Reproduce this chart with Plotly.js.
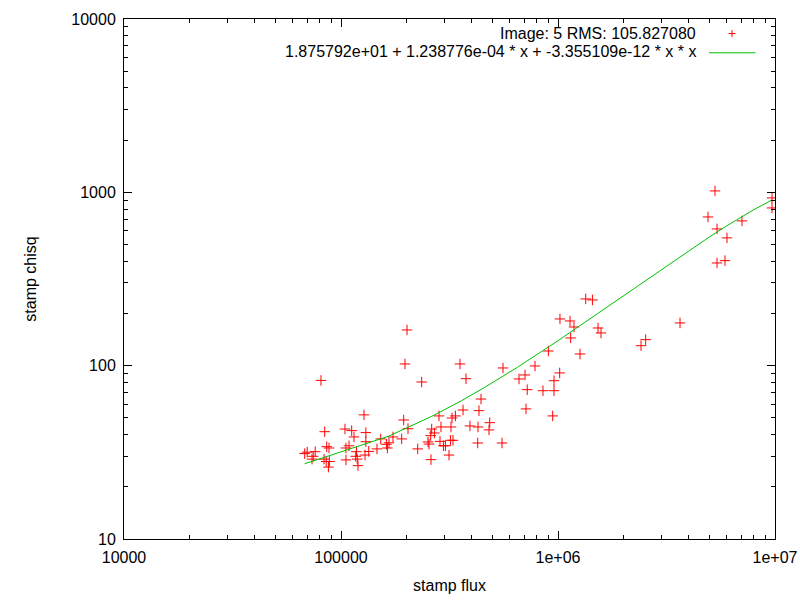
<!DOCTYPE html>
<html>
<head>
<meta charset="utf-8">
<script src="https://cdn.plot.ly/plotly-3.0.1.min.js"></script>
<style>
  body { margin: 0; background: #fff; }
  #plot { width: 800px; height: 600px; }
</style>
</head>
<body>
<div id="plot"></div>
<script>
var flux = [68040, 69860, 76040, 74460, 73520, 80860, 84130, 83510, 85480, 88420,
  87490, 85940, 88050, 104300, 105400, 108900, 105400, 112000, 114800, 117800,
  116900, 118800, 119800, 127600, 130200, 130200, 134200, 129000, 146500, 152400,
  161900, 166400, 163600, 173600, 190400, 194500, 197200, 203600, 225700, 235400,
  201500, 353400, 376700, 557900, 441800, 365000, 432400, 282900, 324800, 336700,
  288900, 321300, 261800, 269400, 259000, 393000, 427900, 484600, 480900, 251700,
  254400, 285900, 296500, 302800, 319300, 328200, 314600, 259800, 426600, 552100,
  1342000, 1441000, 1021000, 1136000, 1185000, 1529000, 1578000, 1144000, 903000, 1263000,
  783400, 1018000, 704700, 661200, 958500, 721400, 852700, 958500, 712200, 945300,
  2413000, 2536000, 3650000, 5290000, 4912000, 5404000, 6008000, 7045000, 9687000, 9687000,
  5404000, 5882000];
var chisq = [31.1, 31.7, 31.9, 30.0, 28.9, 82.2, 41.6, 28.9, 28.0, 28.0,
  26.0, 34.1, 33.5, 43.1, 33.5, 34.5, 28.6, 42.2, 38.8, 31.9,
  30.0, 28.9, 26.5, 52.0, 41.1, 36.4, 32.0, 30.5, 33.1, 37.8,
  35.2, 35.9, 33.5, 38.8, 37.8, 48.6, 102.3, 43.3, 33.1, 80.5,
  160.7, 102.3, 84.1, 97.0, 64.2, 55.5, 55.0, 51.3, 49.9, 51.3,
  44.3, 44.3, 43.1, 40.9, 39.5, 44.9, 44.3, 46.9, 42.6, 36.3,
  35.3, 36.6, 34.5, 34.5, 37.1, 37.1, 30.5, 28.7, 35.8, 35.8,
  242.6, 239.4, 186.0, 181.1, 167.2, 165.0, 154.4, 144.5, 121.5, 116.8,
  99.6, 90.8, 88.4, 83.8, 81.9, 72.7, 71.7, 71.7, 56.3, 51.3,
  130.4, 141.3, 176.4, 1019, 721, 615, 546, 684, 928.5, 812.8,
  391.3, 403.6];

// quadratic fit curve as drawn
var fitFlux = [68000, 165000, 262000, 359000, 456000, 650000, 1000000, 1500000,
  2000000, 3000000, 4000000, 5000000, 6000000, 7000000, 8000000, 9690000];
var fitChisq = [27.17, 39.1, 50.99, 62.8, 74.55, 97.86, 139.3, 197.0,
  253.1, 360.2, 460.6, 554.3, 641.2, 721.5, 795.1, 903.6];

var xTickVals = [10000, 100000, 1000000, 10000000];
var xTickText = ['10000', '100000', '1e+06', '1e+07'];
var yTickVals = [10, 100, 1000, 10000];
var yTickText = ['10', '100', '1000', '10000'];

var pointsName = 'Image: 5 RMS: 105.827080';
var fitName = '1.875792e+01 + 1.238776e-04 * x + -3.355109e-12 * x * x';

var font = {family: 'Liberation Sans, Arial, sans-serif', size: 16, color: '#000'};

var points = {
  x: flux,
  y: chisq,
  type: 'scatter',
  mode: 'markers',
  name: pointsName,
  marker: {symbol: 'cross-thin', size: 7.5, line: {color: '#ff0000', width: 1}},
  hoverinfo: 'x+y'
};

var fit = {
  x: fitFlux,
  y: fitChisq,
  type: 'scatter',
  mode: 'lines',
  name: fitName,
  line: {color: '#00c000', width: 1}
};

var axisBase = {
  type: 'log',
  showline: true,
  linecolor: '#000',
  linewidth: 1,
  mirror: 'ticks',
  ticks: 'inside',
  ticklen: 8,
  tickcolor: '#000',
  showgrid: false,
  zeroline: false,
  tickfont: font,
  tickmode: 'array',
  minor: {ticks: 'inside', ticklen: 4, tickcolor: '#000', dtick: 'D1', showgrid: false}
};

var layout = {
  width: 800,
  height: 600,
  paper_bgcolor: '#fff',
  plot_bgcolor: '#fff',
  showlegend: false,
  font: font,
  margin: {l: 124, r: 25, t: 19, b: 61},
  xaxis: Object.assign({}, axisBase, {
    range: [4, 7],
    tickvals: xTickVals,
    ticktext: xTickText,
    ticklabelstandoff: 4,
    title: {text: 'stamp flux', font: font, standoff: 14}
  }),
  yaxis: Object.assign({}, axisBase, {
    range: [1, 4],
    tickvals: yTickVals,
    ticktext: yTickText,
    ticklabelstandoff: 4,
    title: {text: 'stamp chisq', font: font, standoff: 30}
  }),
  // gnuplot-style key: text right aligned, sample to its right
  annotations: [
    {xref: 'paper', yref: 'paper', x: 0.882, y: 0.972, xanchor: 'right', yanchor: 'middle',
     text: pointsName, showarrow: false, font: font},
    {xref: 'paper', yref: 'paper', x: 0.882, y: 0.937, xanchor: 'right', yanchor: 'middle',
     text: fitName, showarrow: false, font: font}
  ],
  shapes: [
    {type: 'line', xref: 'paper', yref: 'paper', x0: 0.9286, x1: 0.9394, y0: 0.972, y1: 0.972,
     line: {color: '#ff0000', width: 1}},
    {type: 'line', xref: 'paper', yref: 'paper', x0: 0.934, x1: 0.934, y0: 0.9653, y1: 0.9787,
     line: {color: '#ff0000', width: 1}},
    {type: 'line', xref: 'paper', yref: 'paper', x0: 0.8986, x1: 0.970, y0: 0.935, y1: 0.935,
     line: {color: '#00c000', width: 1}}
  ]
};

Plotly.newPlot('plot', [points, fit], layout, {displayModeBar: false, staticPlot: true});
</script>
</body>
</html>
